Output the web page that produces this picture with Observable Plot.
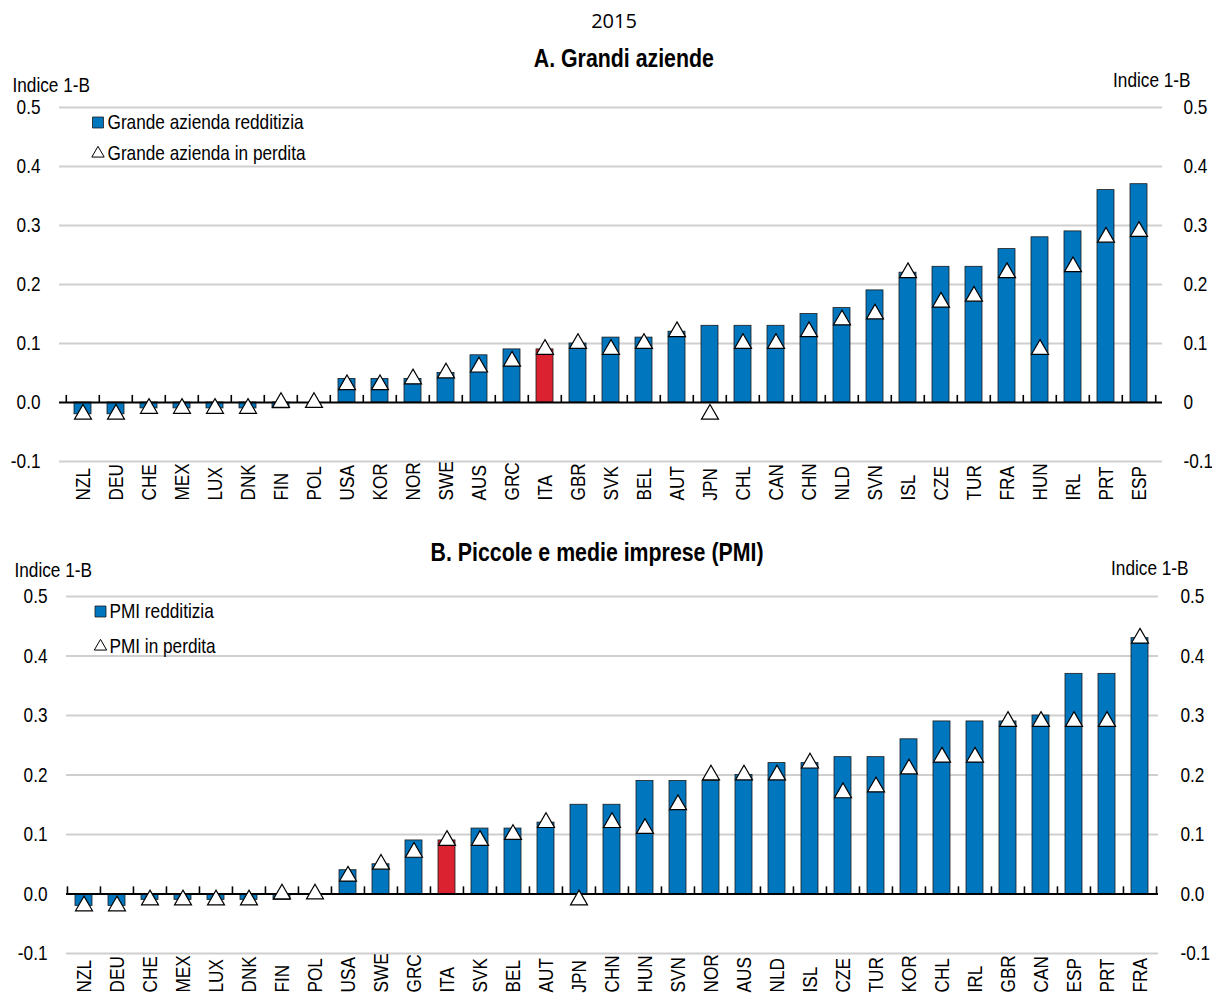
<!DOCTYPE html>
<html><head><meta charset="utf-8">
<script src="https://cdn.jsdelivr.net/npm/d3@7"></script>
<script src="https://cdn.jsdelivr.net/npm/@observablehq/plot@0.6"></script>
<style>
body{margin:0;background:#fff;}
#wrap{position:relative;width:1212px;height:994px;overflow:hidden;font-family:"Liberation Sans",Arial,sans-serif;color:#000;}
.t{position:absolute;width:1212px;text-align:center;line-height:1;white-space:nowrap;}
.t span{display:inline-block;}
.n span{transform:scaleX(0.82);transform-origin:50% 50%;}
#wrap svg{position:absolute;left:0;overflow:visible;}
</style></head><body><div id="wrap">
<div class="t" style="top:11px;left:8px;font-family:'Open Sans',sans-serif;font-size:20px;"><span>2015</span></div>
<div class="t n" style="top:45px;left:18px;font-size:26px;font-weight:bold;"><span>A. Grandi aziende</span></div>
<div class="t n" style="top:539px;left:-9px;font-size:26px;font-weight:bold;"><span>B. Piccole e medie imprese (PMI)</span></div>
</div>
<script>
const catsA = ["NZL","DEU","CHE","MEX","LUX","DNK","FIN","POL","USA","KOR","NOR","SWE","AUS","GRC","ITA","GBR","SVK","BEL","AUT","JPN","CHL","CAN","CHN","NLD","SVN","ISL","CZE","TUR","FRA","HUN","IRL","PRT","ESP"];
const profitA = [-0.02,-0.02,-0.01,-0.01,-0.01,-0.01,-0.01,0,0.04,0.04,0.04,0.05,0.08,0.09,0.09,0.10,0.11,0.11,0.12,0.13,0.13,0.13,0.15,0.16,0.19,0.22,0.23,0.23,0.26,0.28,0.29,0.36,0.37];
const lossA = [-0.02,-0.02,-0.01,-0.01,-0.01,-0.01,0,0,0.03,0.03,0.04,0.05,0.06,0.07,0.09,0.10,0.09,0.10,0.12,-0.02,0.10,0.10,0.12,0.14,0.15,0.22,0.17,0.18,0.22,0.09,0.23,0.28,0.29];

const catsB = ["NZL","DEU","CHE","MEX","LUX","DNK","FIN","POL","USA","SWE","GRC","ITA","SVK","BEL","AUT","JPN","CHN","HUN","SVN","NOR","AUS","NLD","ISL","CZE","TUR","KOR","CHL","IRL","GBR","CAN","ESP","PRT","FRA"];
const profitB = [-0.02,-0.02,-0.01,-0.01,-0.01,-0.01,-0.01,0,0.04,0.05,0.09,0.09,0.11,0.11,0.12,0.15,0.15,0.19,0.19,0.19,0.20,0.22,0.22,0.23,0.23,0.26,0.29,0.29,0.29,0.30,0.37,0.37,0.43];
const lossB = [-0.02,-0.02,-0.01,-0.01,-0.01,-0.01,0,0,0.03,0.05,0.07,0.09,0.09,0.10,0.12,-0.01,0.12,0.11,0.15,0.20,0.20,0.20,0.22,0.17,0.18,0.21,0.23,0.23,0.29,0.29,0.29,0.29,0.43];

const yTicks = [-0.1,0,0.1,0.2,0.3,0.4,0.5];
const highlight = "ITA";
const legendA = ["Grande azienda redditizia","Grande azienda in perdita"];
const legendB = ["PMI redditizia","PMI in perdita"];
const unitLabel = "Indice 1-B";

const BLUE = "#0076BE", RED = "#DA2230";
const FS = 21;

function condense(svg) {
  svg.querySelectorAll("text").forEach(t => {
    const tr = t.getAttribute("transform") || "";
    t.setAttribute("transform", (tr + " scale(0.82,1)").trim());
  });
}

function panel(cfg) {
  const {cats, profit, loss, legend, top, height, ml, mr, mt, mb, rightZero, lab, leg} = cfg;
  const data = cats.map((c, i) => ({c, p: profit[i], l: loss[i]}));
  const W = 1212;
  const step = (W - ml - mr) / cats.length;
  const f1 = d3.format(".1f");
  const fmt = d => f1(d).replace("\u2212", "-");
  const svg = Plot.plot({
    width: W, height,
    marginLeft: ml, marginRight: mr, marginTop: mt, marginBottom: mb,
    style: {fontFamily: '"Liberation Sans",Arial,sans-serif', fontSize: FS + "px", color: "#000", background: "transparent", overflow: "visible"},
    x: {domain: cats, paddingInner: 0.48, paddingOuter: 0.24, axis: null},
    y: {domain: [-0.1, 0.5], axis: null},
    marks: [
      Plot.ruleY(yTicks.filter(d => d !== 0), {stroke: "#cfcfcf", strokeWidth: 2}),
      Plot.barY(data, {x: "c", y: "p", fill: d => d.c === highlight ? RED : BLUE, stroke: "#1b1b1b", strokeWidth: 0.8}),
      Plot.ruleY([0], {stroke: "#000", strokeWidth: 2}),
      Plot.ruleX(cats, {x: d => d, y1: 0, y2: 0.012, dx: -step / 2, stroke: "#000", strokeWidth: 1.6}),
      Plot.ruleX(cats.slice(-1), {x: d => d, y1: 0, y2: 0.012, dx: step / 2, stroke: "#000", strokeWidth: 1.6}),
      Plot.dot(data, {x: "c", y: "l", symbol: "triangle", r: 6.3, fill: "white", stroke: "#000", strokeWidth: 1.2}),
      Plot.axisY(yTicks, {anchor: "left", tickSize: 0, tickPadding: lab.lp, tickFormat: fmt, label: null, fontSize: FS}),
      Plot.axisY(yTicks, {anchor: "right", tickSize: 0, tickPadding: lab.rp, tickFormat: d => (rightZero && d === 0) ? "0" : fmt(d), label: null, fontSize: FS}),
      Plot.text(cats, {x: d => d, frameAnchor: "bottom", rotate: -90, textAnchor: "start", lineAnchor: "middle", dy: lab.cy, fontSize: FS}),
      // unit labels
      Plot.text([unitLabel], {frameAnchor: "top-left", textAnchor: "start", lineAnchor: "middle", dx: lab.ulx, dy: lab.uly, fontSize: FS}),
      Plot.text([unitLabel], {frameAnchor: "top-right", textAnchor: "end", lineAnchor: "middle", dx: lab.urx, dy: lab.ury, fontSize: FS}),
      // legend
      Plot.dot([0], {frameAnchor: "top-left", symbol: "square", r: 6.2, fill: BLUE, stroke: "#1b1b1b", strokeWidth: 0.8, dx: leg.sx, dy: leg.y1}),
      Plot.text([legend[0]], {frameAnchor: "top-left", textAnchor: "start", lineAnchor: "middle", dx: leg.tx, dy: leg.y1, fontSize: FS}),
      Plot.dot([0], {frameAnchor: "top-left", symbol: "triangle", r: 4.6, fill: "white", stroke: "#000", strokeWidth: 1, dx: leg.sx, dy: leg.y2}),
      Plot.text([legend[1]], {frameAnchor: "top-left", textAnchor: "start", lineAnchor: "middle", dx: leg.tx, dy: leg.y2, fontSize: FS})
    ]
  });
  condense(svg);
  svg.style.top = top + "px";
  document.getElementById("wrap").appendChild(svg);
}

panel({cats: catsA, profit: profitA, loss: lossA, legend: legendA,
  top: 70, height: 440, ml: 59, mr: 50, mt: 37, mb: 49, rightZero: true,
  lab: {lp: 19, rp: 21, cy: 39, ulx: -47, uly: -22, urx: 28, ury: -27},
  leg: {sx: 38.5, tx: 48, y1: 15, y2: 46}});

panel({cats: catsB, profit: profitB, loss: lossB, legend: legendB,
  top: 560, height: 434, ml: 66, mr: 54, mt: 36, mb: 41, rightZero: false,
  lab: {lp: 19, rp: 22, cy: 39, ulx: -52, uly: -26, urx: 30, ury: -28},
  leg: {sx: 34, tx: 43, y1: 15, y2: 50}});
</script>
</body></html>
